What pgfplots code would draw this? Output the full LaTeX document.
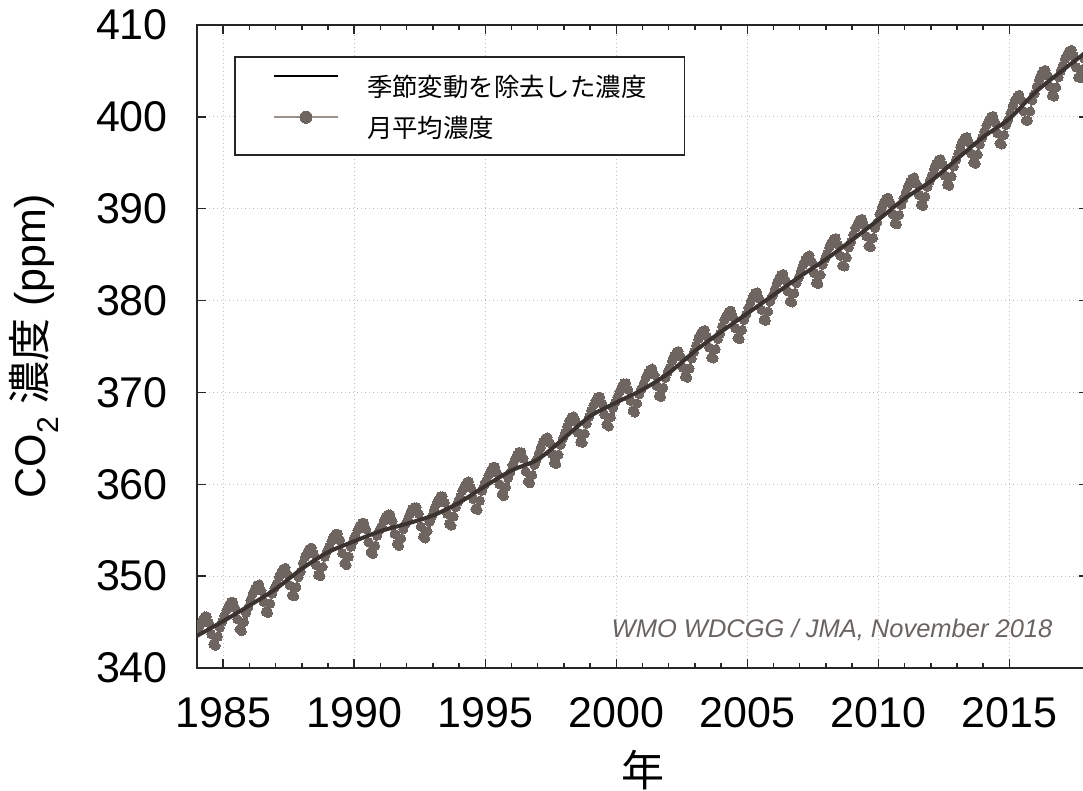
\documentclass[border=0pt]{standalone}
\usepackage{fontspec}
\setmainfont{Liberation Sans}
\newfontfamily\cjk{Noto Sans CJK JP}
\usepackage{pgfplots}
\pgfplotsset{compat=1.18}

\definecolor{trend}{HTML}{3A3330}
\definecolor{monthly}{HTML}{6E6560}
\definecolor{monlite}{HTML}{9C928C}
\definecolor{gridc}{HTML}{C4BEBA}
\definecolor{note}{HTML}{6A6461}

\begin{document}
\begin{tikzpicture}
\useasboundingbox (0,0) rectangle (1083pt,791pt);
\begin{axis}[
  clip marker paths=true,
  at={(197pt,123pt)}, anchor=south west,
  scale only axis, width=891pt, height=643pt,
  xmin=1984, xmax=2018, ymin=340, ymax=410,
  xtick={1985,1990,...,2015}, minor x tick num=4,
  ytick={340,350,...,410},
  tick align=inside,
  major tick length=9pt, minor tick length=5pt,
  tick style={black!85, line width=1.5pt},
  axis line style={black!85, line width=2.2pt},
  grid=major,
  major grid style={gridc, line width=1pt, dash pattern=on 1pt off 3pt},
  /pgf/number format/assume math mode=true,
  /pgf/number format/1000 sep={},
  tick label style={font=\fontsize{43}{48}\selectfont},
  xticklabel style={inner sep=0pt, yshift=-29pt},
  yticklabel style={inner sep=0pt, xshift=-29pt},
  xlabel={\cjk 年},
  xlabel style={font=\fontsize{43}{48}\selectfont, at={(axis description cs:0.5,-0.1586)}, anchor=center},
  ylabel={CO\textsubscript{2} {\cjk 濃度} (ppm)},
  ylabel style={font=\fontsize{43}{48}\selectfont, at={(axis description cs:-0.183,0.5)}, anchor=center},
  reverse legend,
  legend cell align=left,
  legend style={at={(rel axis cs:0.0415,0.952)}, anchor=north west,
    draw=black!85, line width=1.8pt, inner xsep=38pt, inner ysep=17.5pt,
    row sep=15pt, font=\cjk\fontsize{25.4}{28}\selectfont,
    nodes={inner sep=0pt, text height=22pt, text depth=0pt},
    /tikz/every odd column/.append style={column sep=28pt}},
]

% monthly means
\addplot[monthly, line width=1.8pt, mark=*, mark size=4.6pt,
  mark options={solid, draw=monthly, fill=monthly, line width=0pt},
  legend image code/.code={\draw[monlite, line width=1.8pt] (0pt,9.5pt) -- (64pt,9.5pt);
    \draw[monlite, line width=0pt, mark=*, mark size=6pt, mark options={fill=monthly, draw=monthly}]
    plot coordinates {(32pt,9.5pt)};}]
coordinates {
(1984.042,344.1) (1984.125,344.7) (1984.208,345.2) (1984.292,345.6) (1984.375,345.6) (1984.458,344.9) (1984.542,343.7) (1984.625,342.6) (1984.708,342.4) (1984.792,343.4) (1984.875,344.4) (1984.958,345.0)
(1985.042,345.7) (1985.125,346.3) (1985.208,346.8) (1985.292,347.2) (1985.375,347.2) (1985.458,346.5) (1985.542,345.3) (1985.625,344.2) (1985.708,344.0) (1985.792,345.0) (1985.875,346.0) (1985.958,346.6)
(1986.042,347.4) (1986.125,348.1) (1986.208,348.6) (1986.292,349.0) (1986.375,349.1) (1986.458,348.4) (1986.542,347.2) (1986.625,346.1) (1986.708,346.0) (1986.792,347.0) (1986.875,348.1) (1986.958,348.7)
(1987.042,349.2) (1987.125,349.9) (1987.208,350.4) (1987.292,350.8) (1987.375,350.9) (1987.458,350.2) (1987.542,349.0) (1987.625,347.9) (1987.708,347.8) (1987.792,348.8) (1987.875,349.9) (1987.958,350.5)
(1988.042,351.4) (1988.125,352.1) (1988.208,352.6) (1988.292,353.0) (1988.375,353.1) (1988.458,352.4) (1988.542,351.2) (1988.625,350.1) (1988.708,350.0) (1988.792,351.0) (1988.875,352.1) (1988.958,352.7)
(1989.042,353.2) (1989.125,353.8) (1989.208,354.3) (1989.292,354.6) (1989.375,354.6) (1989.458,353.9) (1989.542,352.5) (1989.625,351.4) (1989.708,351.2) (1989.792,352.1) (1989.875,353.2) (1989.958,353.8)
(1990.042,354.4) (1990.125,355.0) (1990.208,355.5) (1990.292,355.8) (1990.375,355.8) (1990.458,355.1) (1990.542,353.7) (1990.625,352.6) (1990.708,352.4) (1990.792,353.3) (1990.875,354.4) (1990.958,355.0)
(1991.042,355.4) (1991.125,356.0) (1991.208,356.5) (1991.292,356.7) (1991.375,356.7) (1991.458,356.0) (1991.542,354.6) (1991.625,353.5) (1991.708,353.3) (1991.792,354.1) (1991.875,355.1) (1991.958,355.7)
(1992.042,356.2) (1992.125,356.8) (1992.208,357.3) (1992.292,357.5) (1992.375,357.5) (1992.458,356.8) (1992.542,355.4) (1992.625,354.3) (1992.708,354.1) (1992.792,354.9) (1992.875,355.9) (1992.958,356.5)
(1993.042,357.2) (1993.125,357.8) (1993.208,358.3) (1993.292,358.7) (1993.375,358.7) (1993.458,358.0) (1993.542,356.8) (1993.625,355.7) (1993.708,355.5) (1993.792,356.5) (1993.875,357.5) (1993.958,358.1)
(1994.042,358.6) (1994.125,359.3) (1994.208,359.8) (1994.292,360.2) (1994.375,360.3) (1994.458,359.6) (1994.542,358.4) (1994.625,357.3) (1994.708,357.2) (1994.792,358.2) (1994.875,359.3) (1994.958,359.9)
(1995.042,360.4) (1995.125,361.0) (1995.208,361.5) (1995.292,361.9) (1995.375,361.9) (1995.458,361.2) (1995.542,360.0) (1995.625,358.9) (1995.708,358.7) (1995.792,359.7) (1995.875,360.7) (1995.958,361.3)
(1996.042,362.1) (1996.125,362.7) (1996.208,363.2) (1996.292,363.5) (1996.375,363.5) (1996.458,362.8) (1996.542,361.4) (1996.625,360.3) (1996.708,360.1) (1996.792,361.0) (1996.875,362.1) (1996.958,362.7)
(1997.042,363.3) (1997.125,364.0) (1997.208,364.6) (1997.292,365.0) (1997.375,365.1) (1997.458,364.5) (1997.542,363.3) (1997.625,362.3) (1997.708,362.2) (1997.792,363.2) (1997.875,364.3) (1997.958,365.0)
(1998.042,365.6) (1998.125,366.3) (1998.208,366.9) (1998.292,367.3) (1998.375,367.4) (1998.458,366.8) (1998.542,365.6) (1998.625,364.6) (1998.708,364.5) (1998.792,365.5) (1998.875,366.6) (1998.958,367.3)
(1999.042,368.0) (1999.125,368.6) (1999.208,369.1) (1999.292,369.5) (1999.375,369.5) (1999.458,368.8) (1999.542,367.6) (1999.625,366.5) (1999.708,366.3) (1999.792,367.3) (1999.875,368.3) (1999.958,368.9)
(2000.042,369.5) (2000.125,370.1) (2000.208,370.6) (2000.292,371.0) (2000.375,371.0) (2000.458,370.3) (2000.542,369.1) (2000.625,368.0) (2000.708,367.8) (2000.792,368.8) (2000.875,369.8) (2000.958,370.4)
(2001.042,370.9) (2001.125,371.6) (2001.208,372.1) (2001.292,372.5) (2001.375,372.6) (2001.458,371.9) (2001.542,370.7) (2001.625,369.6) (2001.708,369.5) (2001.792,370.5) (2001.875,371.6) (2001.958,372.2)
(2002.042,372.7) (2002.125,373.4) (2002.208,374.0) (2002.292,374.4) (2002.375,374.5) (2002.458,373.9) (2002.542,372.7) (2002.625,371.7) (2002.708,371.6) (2002.792,372.6) (2002.875,373.7) (2002.958,374.4)
(2003.042,375.1) (2003.125,375.8) (2003.208,376.3) (2003.292,376.7) (2003.375,376.8) (2003.458,376.1) (2003.542,374.9) (2003.625,373.8) (2003.708,373.7) (2003.792,374.7) (2003.875,375.8) (2003.958,376.4)
(2004.042,377.2) (2004.125,377.9) (2004.208,378.4) (2004.292,378.8) (2004.375,378.9) (2004.458,378.2) (2004.542,377.0) (2004.625,375.9) (2004.708,375.8) (2004.792,376.8) (2004.875,377.9) (2004.958,378.5)
(2005.042,379.2) (2005.125,379.9) (2005.208,380.4) (2005.292,380.8) (2005.375,380.9) (2005.458,380.2) (2005.542,379.0) (2005.625,377.9) (2005.708,377.8) (2005.792,378.8) (2005.875,379.9) (2005.958,380.5)
(2006.042,381.2) (2006.125,381.9) (2006.208,382.4) (2006.292,382.8) (2006.375,382.9) (2006.458,382.2) (2006.542,381.0) (2006.625,379.9) (2006.708,379.8) (2006.792,380.8) (2006.875,381.9) (2006.958,382.5)
(2007.042,383.2) (2007.125,383.9) (2007.208,384.4) (2007.292,384.8) (2007.375,384.9) (2007.458,384.2) (2007.542,383.0) (2007.625,381.9) (2007.708,381.8) (2007.792,382.8) (2007.875,383.9) (2007.958,384.5)
(2008.042,385.1) (2008.125,385.8) (2008.208,386.3) (2008.292,386.7) (2008.375,386.8) (2008.458,386.1) (2008.542,384.9) (2008.625,383.8) (2008.708,383.7) (2008.792,384.7) (2008.875,385.8) (2008.958,386.4)
(2009.042,387.2) (2009.125,387.9) (2009.208,388.4) (2009.292,388.8) (2009.375,388.9) (2009.458,388.2) (2009.542,387.0) (2009.625,385.9) (2009.708,385.8) (2009.792,386.8) (2009.875,387.9) (2009.958,388.5)
(2010.042,389.4) (2010.125,390.1) (2010.208,390.7) (2010.292,391.1) (2010.375,391.2) (2010.458,390.6) (2010.542,389.4) (2010.625,388.4) (2010.708,388.3) (2010.792,389.3) (2010.875,390.4) (2010.958,391.1)
(2011.042,391.7) (2011.125,392.4) (2011.208,392.9) (2011.292,393.3) (2011.375,393.4) (2011.458,392.7) (2011.542,391.5) (2011.625,390.4) (2011.708,390.3) (2011.792,391.3) (2011.875,392.4) (2011.958,393.0)
(2012.042,393.6) (2012.125,394.3) (2012.208,394.9) (2012.292,395.3) (2012.375,395.4) (2012.458,394.8) (2012.542,393.6) (2012.625,392.6) (2012.708,392.5) (2012.792,393.5) (2012.875,394.6) (2012.958,395.3)
(2013.042,396.0) (2013.125,396.7) (2013.208,397.3) (2013.292,397.7) (2013.375,397.8) (2013.458,397.2) (2013.542,396.0) (2013.625,395.0) (2013.708,394.9) (2013.792,395.9) (2013.875,397.0) (2013.958,397.7)
(2014.042,398.4) (2014.125,399.1) (2014.208,399.6) (2014.292,400.0) (2014.375,400.1) (2014.458,399.4) (2014.542,398.2) (2014.625,397.1) (2014.708,397.0) (2014.792,398.0) (2014.875,399.1) (2014.958,399.7)
(2015.042,400.4) (2015.125,401.2) (2015.208,401.8) (2015.292,402.2) (2015.375,402.4) (2015.458,401.8) (2015.542,400.6) (2015.625,399.6) (2015.708,399.6) (2015.792,400.6) (2015.875,401.8) (2015.958,402.5)
(2016.042,403.3) (2016.125,404.0) (2016.208,404.6) (2016.292,405.0) (2016.375,405.1) (2016.458,404.5) (2016.542,403.3) (2016.625,402.3) (2016.708,402.2) (2016.792,403.2) (2016.875,404.3) (2016.958,405.0)
(2017.042,405.6) (2017.125,406.3) (2017.208,406.8) (2017.292,407.2) (2017.375,407.3) (2017.458,406.6) (2017.542,405.4) (2017.625,404.3) (2017.708,404.2) (2017.792,405.2) (2017.875,406.3) (2017.958,406.9)
};
\addlegendentry{月平均濃度}

% deseasonalized trend, drawn above the monthly markers
\addplot[trend, line width=4pt, smooth, no marks,
  legend image code/.code={\draw[black, line width=2.2pt] (0pt,9.5pt) -- (64pt,9.5pt);}]
coordinates {
(1984,343.5) (1985,345.1) (1986,346.8) (1987,348.6) (1988,350.8) (1989,352.6)
(1990,353.8) (1991,354.9) (1992,355.7) (1993,356.6) (1994,358.0) (1995,359.8)
(1996,361.5) (1997,362.7) (1998,365.0) (1999,367.4) (2000,368.9) (2001,370.3)
(2002,372.1) (2003,374.5) (2004,376.6) (2005,378.6) (2006,380.6) (2007,382.6)
(2008,384.5) (2009,386.6) (2010,388.8) (2011,391.1) (2012,393.0) (2013,395.4)
(2014,397.8) (2015,399.8) (2016,402.7) (2017,405.0) (2018,407.2)
};
\addlegendentry{季節変動を除去した濃度}

\node[font=\itshape\fontsize{25.5}{28}\selectfont, text=note, anchor=base east]
  at (rel axis cs:0.964,0.0467) {WMO WDCGG / JMA, November 2018};
\end{axis}
\end{tikzpicture}
\end{document}
